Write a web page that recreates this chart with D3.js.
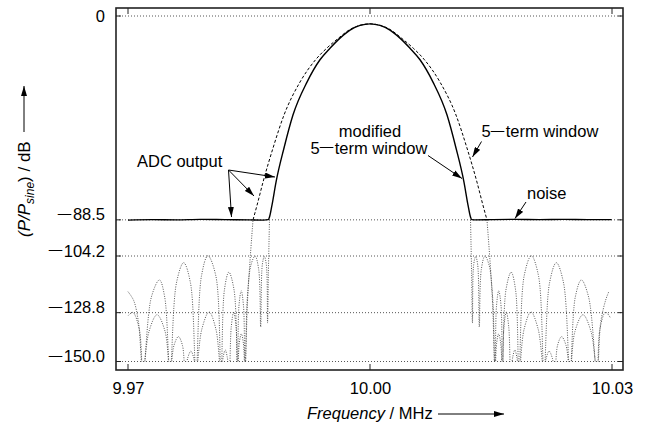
<!DOCTYPE html>
<html>
<head>
<meta charset="utf-8">
<script src="https://cdn.jsdelivr.net/npm/d3@7"></script>
<style>
  body { margin: 0; background: #fff; }
  svg text { font-family: "Liberation Sans", Arial, Helvetica, sans-serif; fill: #000; }
</style>
</head>
<body>
<svg id="chart" width="647" height="425"></svg>
<script>
// Axis ticks
const xTicks = [9.97, 10.00, 10.03];               // MHz
const yTicks = [0, -88.5, -104.2, -128.8, -150.0]; // dB

// Spectra: [offset from 10 MHz in kHz, level in dB]
// ADC output with the modified 5-term window (main lobe + noise floor)
const adcModified = [
  [-30.0, -88.6], [-27.0, -88.4], [-24.0, -88.5], [-21.0, -88.3], [-18.0, -88.4],
  [-15.0, -88.5], [-13.2, -88.6], [-12.6, -88.4],
  [-12.46, -87.3], [-12.15, -82.1], [-11.65, -72.1], [-10.66, -57.3], [-9.55, -43.0],
  [-7.81, -28.7], [-6.2, -19.0], [-4.96, -14.0], [-3.72, -9.6], [-2.48, -6.1], [-1.24, -4.1], [0, -3.4],
  [1.24, -4.1], [2.48, -6.1], [3.72, -9.6], [4.96, -14.0], [6.2, -19.0], [7.81, -28.7], [9.55, -43.0],
  [10.66, -57.3], [11.65, -72.1], [12.15, -82.1], [12.46, -87.3],
  [12.6, -88.4], [13.2, -88.5], [15.0, -88.4], [18.0, -88.3], [21.0, -88.4],
  [24.0, -88.3], [27.0, -88.4], [29.95, -88.4]
];

// ADC output with the plain 5-term window (main lobe above the noise floor)
const adcFiveTerm = [
  [-14.5, -88.5], [-14.0, -82.1], [-13.26, -72.1], [-12.02, -57.3], [-10.66, -43.0],
  [-8.68, -28.7], [-6.75, -19.0], [-5.37, -14.0], [-3.9, -9.6], [-2.6, -6.1], [-1.3, -4.1], [0, -3.4],
  [1.3, -4.1], [2.6, -6.1], [3.9, -9.6], [5.37, -14.0], [6.75, -19.0], [8.68, -28.7], [10.66, -43.0],
  [12.02, -57.3], [13.26, -72.1], [14.0, -82.1], [14.5, -88.5]
];

// Noise-free spectrum of the modified 5-term window below the noise floor
const modIdealLeft = [
  [-30.0, -119.7], [-29.3, -123.5], [-28.7, -133], [-28.14, -155],
  [-27.1, -122], [-26.1, -114.6], [-25.45, -122], [-24.79, -155],
  [-24.0, -116], [-23.1, -107.1], [-22.25, -116], [-21.57, -155],
  [-20.9, -113], [-20.1, -104.1], [-19.1, -113], [-18.47, -155],
  [-18.05, -119], [-17.5, -111.2], [-16.85, -119], [-16.42, -155],
  [-16.25, -126], [-15.96, -119.3], [-15.68, -126], [-15.5, -155],
  [-15.2, -122], [-14.75, -108], [-14.25, -104.2], [-13.8, -110], [-13.55, -135],
  [-13.35, -108], [-13.1, -104.4], [-12.85, -108], [-12.7, -133.3],
  [-12.6, -112], [-12.46, -88.5]
];
const modIdealRight = [
  [12.46, -88.5], [12.6, -112], [12.7, -133.3], [12.85, -108], [13.1, -104.4],
  [13.35, -108], [13.55, -135], [13.8, -110], [14.25, -104.2], [14.75, -108],
  [15.2, -122], [15.5, -155], [15.68, -126], [15.96, -119.3], [16.25, -126],
  [16.42, -155], [16.85, -119], [17.5, -111.2], [18.05, -119], [18.47, -155],
  [19.1, -113], [20.0, -104.1], [20.9, -113], [21.57, -155],
  [22.25, -116], [23.1, -107.1], [24.0, -116], [24.79, -155],
  [25.45, -122], [26.2, -114.6], [27.1, -122], [28.14, -155],
  [28.6, -133], [29.2, -123.5], [29.6, -119.7]
];

// Noise-free spectrum of the 5-term window below the noise floor
const fiveIdealLeft = [
  [-29.95, -130], [-29.4, -128.7], [-28.6, -136], [-28.14, -155],
  [-27.4, -137], [-26.4, -129.7], [-25.4, -137], [-24.79, -155],
  [-24.3, -143], [-23.75, -139.2], [-23.25, -143], [-22.9, -155],
  [-22.6, -148.5], [-22.2, -145.5], [-21.85, -148.5], [-21.57, -155],
  [-20.85, -136], [-19.95, -128.5], [-19.1, -136], [-18.47, -155],
  [-18.2, -148], [-17.95, -145], [-17.7, -148], [-17.45, -155],
  [-17.2, -135], [-16.9, -128.5], [-16.6, -135], [-16.42, -155],
  [-16.2, -142], [-15.95, -138], [-15.7, -142], [-15.5, -155],
  [-15.2, -125], [-14.85, -105], [-14.5, -88.5]
];
const fiveIdealRight = [
  [14.5, -88.5], [14.85, -105], [15.2, -125], [15.5, -155],
  [15.7, -142], [15.95, -138], [16.2, -142], [16.42, -155],
  [16.6, -135], [16.9, -128.5], [17.2, -135], [17.45, -155],
  [17.7, -148], [17.95, -145], [18.2, -148], [18.47, -155],
  [19.1, -136], [19.95, -128.5], [20.85, -136], [21.57, -155],
  [21.85, -148.5], [22.2, -145.5], [22.6, -148.5], [22.9, -155],
  [23.25, -143], [23.75, -139.2], [24.3, -143], [24.79, -155],
  [25.4, -137], [26.4, -129.7], [27.4, -137], [28.14, -155],
  [28.5, -136], [29.2, -128.6], [29.8, -131]
];

// ---------------------------------------------------------------------------
const FS = 16.5;
const svg = d3.select("#chart");
const frame = { left: 116, right: 623, top: 8, bottom: 370 };

const x = d3.scaleLinear().domain([9.97, 10.03]).range([128, 612]);
const y = d3.scaleLinear().domain([0, -150]).range([16, 361.5]);
const toMHz = k => 10 + k / 1000;

// Writes a string into a text element, drawing each minus sign as a long dash
function writeLong(textSel, str) {
  textSel.text(null);
  const parts = str.split("\u2212");
  parts.forEach((p, i) => {
    if (i > 0) {
      textSel.append("tspan").attr("font-size", FS * 0.82).attr("dy", -2.2).text("\u2014");
      textSel.append("tspan").attr("dy", 2.2).attr("dx", 1.5).text(p);
    } else if (p.length) {
      textSel.append("tspan").text(p);
    }
  });
}

// arrow head
const defs = svg.append("defs");
defs.append("marker")
  .attr("id", "head")
  .attr("markerUnits", "userSpaceOnUse")
  .attr("viewBox", "0 0 10 6")
  .attr("refX", 10).attr("refY", 3)
  .attr("markerWidth", 10).attr("markerHeight", 6)
  .attr("orient", "auto")
  .append("path").attr("d", "M0,0 L10,3 L0,6 Z").attr("fill", "#000");

defs.append("clipPath").attr("id", "plotClip")
  .append("rect")
  .attr("x", frame.left).attr("y", frame.top)
  .attr("width", frame.right - frame.left)
  .attr("height", y(-150) - frame.top);

// horizontal dotted grid lines
svg.append("g").selectAll("line").data(yTicks).join("line")
  .attr("x1", frame.left).attr("x2", frame.right)
  .attr("y1", d => y(d)).attr("y2", d => y(d))
  .attr("stroke", "#555").attr("stroke-width", 1)
  .attr("stroke-dasharray", "1,2");

// curves
const smooth = d3.line()
  .x(d => x(toMHz(d[0]))).y(d => y(d[1]))
  .curve(d3.curveCatmullRom.alpha(0.5));
const mono = d3.line()
  .x(d => x(toMHz(d[0]))).y(d => y(d[1]))
  .curve(d3.curveMonotoneX);

const plot = svg.append("g").attr("clip-path", "url(#plotClip)");

[modIdealLeft, modIdealRight, fiveIdealLeft, fiveIdealRight].forEach(s => {
  plot.append("path").attr("d", smooth(s))
    .attr("fill", "none").attr("stroke", "#444")
    .attr("stroke-width", 0.9).attr("stroke-dasharray", "1,1.4");
});

plot.append("path").attr("d", mono(adcFiveTerm))
  .attr("fill", "none").attr("stroke", "#000")
  .attr("stroke-width", 1).attr("stroke-dasharray", "3,2");

plot.append("path").attr("d", mono(adcModified))
  .attr("fill", "none").attr("stroke", "#000")
  .attr("stroke-width", 1.4).attr("stroke-linejoin", "round");

// frame
svg.append("rect")
  .attr("x", frame.left).attr("y", frame.top)
  .attr("width", frame.right - frame.left).attr("height", frame.bottom - frame.top)
  .attr("fill", "none").attr("stroke", "#222").attr("stroke-width", 1.6);

// inner tick marks
const tk = svg.append("g").attr("stroke", "#222").attr("stroke-width", 1);
xTicks.forEach(v => {
  tk.append("line").attr("x1", x(v)).attr("x2", x(v)).attr("y1", frame.bottom).attr("y2", frame.bottom - 6);
  tk.append("line").attr("x1", x(v)).attr("x2", x(v)).attr("y1", frame.top).attr("y2", frame.top + 6);
});
yTicks.forEach(v => {
  tk.append("line").attr("x1", frame.left).attr("x2", frame.left + 5).attr("y1", y(v)).attr("y2", y(v));
  tk.append("line").attr("x1", frame.right).attr("x2", frame.right - 5).attr("y1", y(v)).attr("y2", y(v));
});

// tick labels via d3 axes
const yFmt = d => d === 0 ? "0" : d3.format(".1f")(d);
const yAxis = d3.axisLeft(y).tickValues(yTicks).tickSize(0).tickPadding(11).tickFormat(yFmt);
const gy = svg.append("g").attr("transform", `translate(${frame.left},0)`).call(yAxis);
gy.select(".domain").remove();
gy.selectAll("text").attr("font-size", FS).attr("font-family", null).attr("fill", "#000")
  .each(function (d) { writeLong(d3.select(this), yFmt(d)); });

const xAxis = d3.axisBottom(x).tickValues(xTicks).tickSize(0).tickPadding(12)
  .tickFormat(d3.format(".2f"));
const gx = svg.append("g").attr("transform", `translate(0,${frame.bottom})`).call(xAxis);
gx.select(".domain").remove();
gx.selectAll("text").attr("font-size", FS).attr("font-family", null).attr("fill", "#000");

// axis titles
const xt = svg.append("text").attr("x", 307).attr("y", 419).attr("font-size", FS);
xt.append("tspan").attr("font-style", "italic").text("Frequency");
xt.append("tspan").text(" / MHz");
svg.append("line").attr("x1", 438).attr("x2", 504).attr("y1", 414).attr("y2", 414)
  .attr("stroke", "#000").attr("stroke-width", 1).attr("marker-end", "url(#head)");

const yt = svg.append("text").attr("transform", "translate(30,237) rotate(-90)").attr("font-size", 17);
yt.append("tspan").attr("font-style", "italic").text("(P/P");
yt.append("tspan").attr("font-style", "italic").attr("font-size", 12).attr("dy", 4).text("sine");
yt.append("tspan").attr("dy", -4).text(") / dB");
svg.append("line").attr("x1", 24).attr("x2", 24).attr("y1", 132).attr("y2", 86)
  .attr("stroke", "#000").attr("stroke-width", 1).attr("marker-end", "url(#head)");

// annotations
const ann = svg.append("g").attr("font-size", FS);
ann.append("text").attr("x", 137).attr("y", 167).text("ADC output");
ann.append("text").attr("x", 370).attr("y", 137).attr("text-anchor", "middle").text("modified");
writeLong(ann.append("text").attr("x", 369).attr("y", 153.5).attr("text-anchor", "middle"), "5\u2212term window");
writeLong(ann.append("text").attr("x", 481.5).attr("y", 137), "5\u2212term window");
ann.append("text").attr("x", 527).attr("y", 198.5).text("noise");

const arrows = [
  [228.5, 170, 231.5, 217],
  [228.5, 170, 254, 196],
  [228.5, 170, 275, 177],
  [428, 155.5, 462, 178.5],
  [481.5, 141.5, 472.5, 157],
  [526, 202, 515, 218.5]
];
svg.append("g").selectAll("line").data(arrows).join("line")
  .attr("x1", d => d[0]).attr("y1", d => d[1])
  .attr("x2", d => d[2]).attr("y2", d => d[3])
  .attr("stroke", "#000").attr("stroke-width", 1)
  .attr("marker-end", "url(#head)");
</script>
</body>
</html>
